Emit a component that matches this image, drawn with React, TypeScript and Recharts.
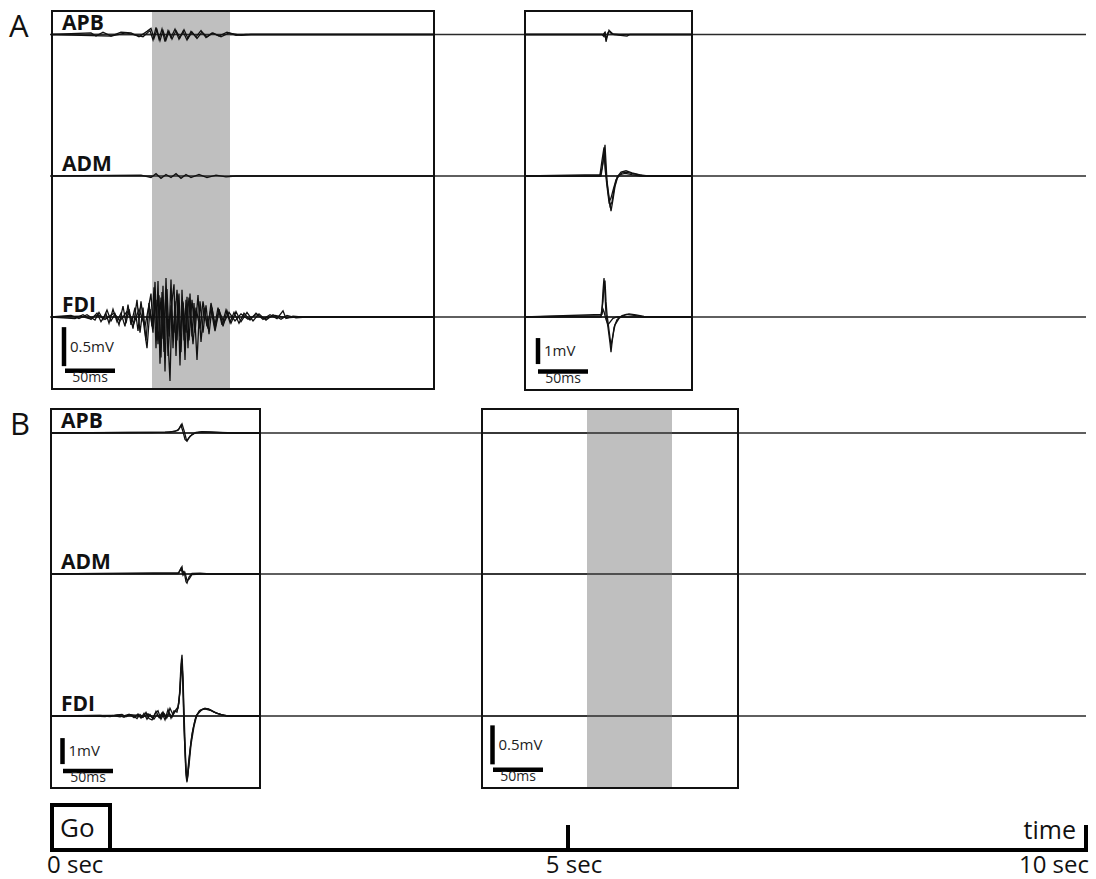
import React from 'react';
import { ComposedChart, Line, XAxis, YAxis, ReferenceLine, ReferenceArea } from 'recharts';

const FONT = '"Open Sans", "DejaVu Sans", sans-serif';

// recorded muscles, top to bottom in each panel
const MUSCLES = ['APB', 'ADM', 'FDI'] as const;
type Muscle = (typeof MUSCLES)[number];

// trial time line (sec)
const TIME_TICKS = [0, 5, 10];

// each trace is a list of [ms, mV] samples
type Pt = [number, number];

// ---- A, first window: voluntary burst ----
const A1_APB: Pt[][] = [
  [[0, 0], [40, 0.02], [45, -0.02], [52, 0.03], [60, -0.02], [70, 0.03], [80, 0.02], [88, -0.03], [96, 0.04], [100, 0.08], [103, -0.05], [106, 0.06], [109, -0.08], [112, 0.05], [115, -0.07], [118, 0.04], [121, -0.06], [125, 0.05], [129, -0.04], [133, 0.06], [137, -0.05], [141, 0.03], [146, -0.05], [151, 0.03], [156, -0.03], [162, 0.02], [170, -0.03], [178, 0.02], [190, -0.01], [200, 0], [384, 0]],
  [[0, 0], [60, -0.02], [75, 0.02], [92, -0.03], [99, 0.05], [102, -0.07], [105, 0.09], [108, -0.06], [111, 0.07], [114, -0.09], [117, 0.05], [120, -0.04], [124, 0.07], [128, -0.06], [132, 0.04], [136, -0.07], [140, 0.04], [145, -0.03], [150, 0.05], [155, -0.04], [161, 0.02], [168, -0.02], [176, 0.03], [185, -0.01], [195, 0], [384, 0]],
];
const A1_ADM: Pt[][] = [
  [[0, 0], [90, 0.01], [100, -0.02], [105, 0.03], [110, -0.03], [115, 0.02], [120, -0.02], [125, 0.03], [130, -0.03], [135, 0.02], [140, -0.02], [148, 0.02], [156, -0.02], [165, 0.01], [175, -0.01], [185, 0], [384, 0]],
];
const A1_FDI: Pt[][] = [
  [[0, 0], [20, 0.02], [28, -0.02], [36, 0.03], [44, -0.04], [48, 0.06], [52, -0.03], [56, 0.09], [60, -0.05], [64, 0.04], [68, -0.1], [72, 0.14], [75, -0.08], [78, 0.1], [82, -0.15], [86, 0.22], [89, -0.2], [92, 0.12], [95, -0.3], [98, 0.18], [101, -0.12], [103, 0.38], [105, -0.4], [107, 0.46], [109, -0.6], [111, 0.32], [113, -0.45], [115, 0.5], [117, -0.3], [119, -0.82], [121, 0.2], [123, 0.42], [125, -0.5], [127, 0.28], [129, -0.62], [131, 0.35], [133, -0.3], [135, 0.22], [137, -0.4], [139, 0.3], [141, -0.25], [143, 0.18], [146, -0.55], [149, 0.2], [152, -0.2], [155, 0.15], [158, -0.22], [161, 0.12], [164, -0.15], [168, 0.1], [172, -0.12], [176, 0.08], [180, -0.08], [185, 0.07], [190, -0.06], [196, 0.06], [202, -0.05], [208, 0.04], [215, -0.04], [222, 0.03], [230, -0.03], [236, 0.02], [245, -0.01], [255, 0], [384, 0]],
  [[0, 0], [24, -0.02], [32, 0.03], [40, -0.03], [46, 0.05], [50, -0.06], [55, 0.04], [58, -0.08], [62, 0.1], [66, -0.06], [70, 0.05], [74, -0.12], [77, 0.16], [80, -0.1], [84, 0.12], [87, -0.18], [90, 0.2], [93, -0.12], [96, -0.4], [99, 0.1], [102, -0.2], [104, 0.45], [106, -0.3], [108, 0.28], [110, -0.52], [112, 0.4], [114, -0.7], [116, 0.36], [118, -0.25], [120, 0.48], [122, -0.4], [124, 0.2], [126, -0.3], [128, 0.3], [130, -0.45], [132, 0.2], [134, -0.55], [136, 0.26], [138, -0.3], [141, 0.22], [144, -0.2], [147, 0.28], [150, -0.32], [153, 0.12], [157, -0.15], [160, 0.18], [164, -0.1], [167, 0.12], [171, -0.1], [175, 0.09], [179, -0.07], [183, 0.06], [188, -0.08], [193, 0.05], [199, -0.04], [205, 0.05], [212, -0.03], [219, 0.03], [226, -0.02], [232, 0.08], [235, -0.02], [242, 0.01], [250, 0], [384, 0]],
  [[0, 0], [30, 0.01], [38, -0.02], [47, 0.03], [54, -0.03], [63, 0.05], [69, -0.05], [76, 0.07], [83, -0.08], [88, 0.1], [94, -0.12], [100, 0.3], [102, -0.15], [105, 0.22], [107, -0.35], [110, 0.25], [112, -0.28], [115, 0.3], [117, -0.5], [120, 0.15], [123, -0.2], [126, 0.35], [129, -0.25], [132, 0.18], [135, -0.2], [138, 0.25], [142, -0.35], [145, 0.12], [149, -0.15], [152, 0.2], [156, -0.12], [160, 0.1], [164, -0.18], [168, 0.08], [173, -0.07], [178, 0.06], [184, -0.05], [190, 0.04], [197, -0.03], [205, 0.03], [214, -0.02], [224, 0.02], [236, -0.01], [245, 0], [384, 0]],
];

// ---- A, second window: MEPs ----
const A2_APB: Pt[][] = [
  [[0, 0], [78, 0], [80, -0.08], [81, 0.1], [82, -0.28], [83, -0.12], [85, 0.16], [87, 0.05], [90, 0], [103, -0.06], [106, 0], [169, 0]],
  [[0, 0], [79, 0], [81, 0.08], [82, -0.2], [84, 0.08], [86, 0.12], [89, 0.02], [95, 0], [169, 0]],
];
const A2_ADM: Pt[][] = [
  [[0, 0], [76, 0], [78, 0.3], [80, 0.8], [81, 1.2], [82, 0.5], [83, -0.2], [85, -0.8], [87, -1.35], [89, -0.9], [91, -0.4], [94, 0], [98, 0.12], [103, 0.14], [110, 0.08], [118, 0.02], [125, 0], [169, 0]],
  [[0, 0], [77, 0], [79, 0.5], [80, 1.0], [81, 0.7], [82, 0.1], [84, -0.6], [86, -1.15], [88, -1.0], [90, -0.5], [93, -0.05], [97, 0.15], [102, 0.2], [108, 0.12], [116, 0.04], [124, 0], [169, 0]],
  [[0, 0], [76, 0.05], [78, 0.6], [80, 1.1], [81, 0.3], [83, -0.4], [85, -1.0], [87, -0.85], [89, -0.55], [92, -0.15], [96, 0.05], [101, 0.1], [108, 0.05], [116, 0], [169, 0]],
];
const A2_FDI: Pt[][] = [
  [[0, 0], [77, 0], [78, 0.3], [79, 1.0], [80, 1.5], [81, 0.9], [82, 0.1], [84, -0.4], [86, -1.0], [87, -1.35], [88, -1.0], [90, -0.4], [93, -0.1], [98, 0.05], [105, 0.12], [112, 0.08], [120, 0.02], [128, 0], [169, 0]],
  [[0, 0], [77, 0.05], [79, 0.6], [80, 1.2], [81, 1.4], [82, 0.6], [83, 0.1], [85, -0.5], [87, -1.1], [89, -0.7], [91, -0.3], [95, -0.05], [102, 0.1], [110, 0.06], [120, 0], [169, 0]],
  [[0, 0], [78, 0.1], [79, 0.3], [80, 0.2], [82, -0.1], [84, -0.3], [86, -0.2], [89, -0.05], [93, 0], [169, 0]],
];

// ---- B, first window: MEPs during contraction ----
const B1_APB: Pt[][] = [
  [[0, 0], [100, 0.02], [115, 0.03], [125, 0.06], [129, 0.15], [132, 0.35], [134, 0.1], [136, -0.2], [137, -0.28], [139, -0.18], [142, -0.06], [146, 0.02], [152, 0.05], [160, 0.04], [170, 0.02], [185, 0], [211, 0]],
  [[0, 0], [120, 0.03], [128, 0.1], [131, 0.3], [133, 0.05], [135, -0.25], [137, -0.32], [140, -0.12], [145, 0], [152, 0.04], [165, 0.02], [180, 0], [211, 0]],
];
const B1_ADM: Pt[][] = [
  [[0, 0], [128, 0.02], [130, 0.15], [132, 0.28], [133, 0.0], [134, 0.12], [136, -0.3], [137, -0.35], [139, -0.12], [142, 0.02], [150, 0.03], [160, 0], [211, 0]],
  [[0, 0], [129, 0.05], [131, 0.22], [133, -0.05], [135, 0.05], [137, -0.25], [139, -0.2], [142, -0.02], [150, 0], [211, 0]],
];
const B1_FDI: Pt[][] = [
  [[0, 0], [40, 0.01], [55, -0.02], [65, 0.03], [72, 0.06], [76, -0.03], [80, 0.05], [84, -0.06], [88, 0.08], [91, -0.08], [94, 0.1], [97, -0.12], [100, 0.06], [103, -0.1], [106, 0.18], [109, -0.05], [112, 0.12], [115, -0.15], [118, 0.25], [121, -0.08], [124, 0.2], [127, 0.15], [129, 0.5], [130, 1.2], [131, 2.0], [132, 2.35], [133, 1.5], [134, 0.2], [135, -1.0], [136, -2.0], [137, -2.5], [138, -2.3], [139, -1.7], [141, -1.0], [143, -0.5], [146, 0], [150, 0.22], [155, 0.3], [160, 0.25], [166, 0.12], [172, 0.04], [178, 0], [211, 0]],
  [[0, 0], [50, 0.02], [60, -0.02], [68, 0.04], [74, -0.05], [79, 0.07], [83, 0.02], [87, -0.1], [90, 0.06], [93, -0.05], [96, 0.14], [99, -0.1], [102, -0.15], [105, 0.08], [108, 0.2], [111, -0.12], [114, 0.1], [117, -0.05], [120, 0.3], [123, 0.05], [126, 0.25], [128, 0.35], [130, 0.9], [131, 1.6], [132, 2.1], [133, 1.2], [134, -0.2], [135, -1.4], [136, -2.3], [137, -2.55], [138, -2.0], [140, -1.3], [142, -0.7], [145, -0.15], [149, 0.18], [154, 0.28], [160, 0.22], [167, 0.1], [174, 0.02], [180, 0], [211, 0]],
  [[0, 0], [62, 0.02], [70, -0.03], [78, 0.05], [86, 0.03], [92, -0.06], [98, 0.08], [104, -0.12], [107, 0.05], [110, -0.08], [113, 0.15], [116, -0.1], [119, 0.12], [122, -0.05], [125, 0.18], [128, 0.3], [130, 1.0], [131, 1.8], [132, 2.2], [133, 1.0], [134, -0.5], [136, -2.1], [137, -2.4], [139, -1.9], [141, -1.1], [144, -0.4], [147, 0.05], [152, 0.25], [158, 0.28], [164, 0.15], [171, 0.05], [178, 0], [211, 0]],
];

// ---- B, second window: rest, no response ----
const B2_APB: Pt[][] = [];
const B2_ADM: Pt[][] = [];
const B2_FDI: Pt[][] = [];

// page layout
const W = 1096;
const H = 879;
const AXIS_Y = 850;
const PLOT_LEFT = 50;
const PLOT_RIGHT = 1086;
const ROWS_A = [34.5, 176, 317];
const ROWS_B = [433, 574, 716];

interface ScaleBar {
  x: number;
  top: number;
  mv: number;
  mvLabel: string;
  hx: number;
  hy: number;
  ms: number;
}

interface Inset {
  id: string;
  left: number;
  top: number;
  width: number;
  height: number;
  gain: number; // px per mV
  rows: number[];
  traces: Record<Muscle, Pt[][]>;
  shade?: [number, number];
  bar: ScaleBar;
  labels: boolean;
}

const INSETS: Inset[] = [
  {
    id: 'a1', left: 51, top: 10, width: 384, height: 380, gain: 78, rows: ROWS_A,
    traces: { APB: A1_APB, ADM: A1_ADM, FDI: A1_FDI }, shade: [101, 179],
    bar: { x: 13, top: -0.13, mv: 0.5, mvLabel: '0.5mV', hx: 14, hy: -0.69, ms: 50 }, labels: true,
  },
  {
    id: 'a2', left: 524, top: 10, width: 169, height: 381, gain: 26, rows: ROWS_A,
    traces: { APB: A2_APB, ADM: A2_ADM, FDI: A2_FDI },
    bar: { x: 14, top: -0.81, mv: 1, mvLabel: '1mV', hx: 14, hy: -2.1, ms: 50 }, labels: false,
  },
  {
    id: 'b1', left: 50, top: 408, width: 211, height: 381, gain: 26, rows: ROWS_B,
    traces: { APB: B1_APB, ADM: B1_ADM, FDI: B1_FDI },
    bar: { x: 12.5, top: -0.85, mv: 1, mvLabel: '1mV', hx: 13, hy: -2.12, ms: 50 }, labels: true,
  },
  {
    id: 'b2', left: 481, top: 408, width: 258, height: 381, gain: 78, rows: ROWS_B,
    traces: { APB: B2_APB, ADM: B2_ADM, FDI: B2_FDI }, shade: [106, 191],
    bar: { x: 11.5, top: -0.12, mv: 0.5, mvLabel: '0.5mV', hx: 12, hy: -0.69, ms: 50 }, labels: false,
  },
];

const BASE_STROKE = '#2a2a2a';

const InsetChart = ({ box }: { box: Inset }) => {
  const { bar } = box;
  return (
    <div style={{ position: 'absolute', left: box.left, top: box.top }}>
      <ComposedChart width={box.width} height={box.height} margin={{ top: 0, right: 0, bottom: 0, left: 0 }}>
        <XAxis type="number" dataKey="t" domain={[0, box.width]} hide allowDataOverflow />
        {MUSCLES.map((m, i) => {
          const py = box.rows[i] - box.top;
          return (
            <YAxis
              key={m}
              yAxisId={m}
              type="number"
              hide
              allowDataOverflow
              domain={[-(box.height - py) / box.gain, py / box.gain]}
            />
          );
        })}
        {box.shade && (
          <ReferenceArea yAxisId="APB" x1={box.shade[0]} x2={box.shade[1]} fill="#bfbfbf" fillOpacity={1} stroke="none" />
        )}
        {MUSCLES.map((m) => (
          <ReferenceLine key={`base-${m}`} yAxisId={m} y={0} stroke={BASE_STROKE} strokeWidth={1.6} />
        ))}
        {MUSCLES.flatMap((m) =>
          box.traces[m].map((trial, k) => (
            <Line
              key={`${m}-${k}`}
              yAxisId={m}
              data={trial.map(([t, v]) => ({ t, v }))}
              dataKey="v"
              type="linear"
              stroke="#111"
              strokeWidth={1.3}
              dot={false}
              isAnimationActive={false}
            />
          ))
        )}
        <ReferenceLine
          yAxisId="FDI"
          segment={[{ x: bar.x, y: bar.top }, { x: bar.x, y: bar.top - bar.mv }]}
          stroke="#000"
          strokeWidth={4.5}
          label={{ value: bar.mvLabel, position: 'right', offset: 6, fontSize: 15, fill: '#222', fontFamily: FONT }}
        />
        <ReferenceLine
          yAxisId="FDI"
          segment={[{ x: bar.hx, y: bar.hy }, { x: bar.hx + bar.ms, y: bar.hy }]}
          stroke="#000"
          strokeWidth={4.5}
          label={{ value: `${bar.ms}ms`, position: 'bottom', offset: 1, fontSize: 14, fill: '#222', fontFamily: FONT }}
        />
      </ComposedChart>
    </div>
  );
};

const TimeTick = (props: any) => {
  const { x, y, payload } = props;
  const v = payload.value as number;
  const anchor = v === 0 ? 'start' : v === 10 ? 'end' : 'middle';
  const dx = v === 0 ? -3 : v === 10 ? 3 : 6;
  return (
    <g>
      {v !== 0 && <line x1={x} x2={x} y1={y - 25} y2={y + 2} stroke="#000" strokeWidth={4} />}
      <text x={x + dx} y={y + 23} textAnchor={anchor} fontSize={24} fontFamily={FONT} fill="#111">
        {`${v} sec`}
      </text>
    </g>
  );
};

const ALL_ROWS = [...ROWS_A, ...ROWS_B];

export default function App() {
  return (
    <div style={{ position: 'absolute', left: 0, top: 0, width: W, height: H, background: '#fff', fontFamily: FONT }}>
      {/* full-length traces and the trial time line */}
      <div style={{ position: 'absolute', left: 0, top: 0 }}>
        <ComposedChart
          width={W}
          height={H}
          data={TIME_TICKS.map((sec) => ({ sec }))}
          margin={{ top: 0, right: W - PLOT_RIGHT, bottom: 0, left: PLOT_LEFT }}
        >
          <XAxis
            dataKey="sec"
            type="number"
            domain={[0, 10]}
            ticks={TIME_TICKS}
            interval={0}
            height={H - AXIS_Y}
            tickSize={0}
            tickMargin={0}
            tickLine={false}
            axisLine={{ stroke: '#000', strokeWidth: 4 }}
            tick={TimeTick}
          />
          {ALL_ROWS.map((py, i) => (
            <YAxis key={i} yAxisId={`r${i}`} type="number" hide allowDataOverflow domain={[-(AXIS_Y - py), py]} />
          ))}
          {ALL_ROWS.map((_, i) => (
            <ReferenceLine key={`row-${i}`} yAxisId={`r${i}`} y={0} stroke={BASE_STROKE} strokeWidth={1.6} />
          ))}
        </ComposedChart>
      </div>

      {INSETS.map((box) => (
        <InsetChart key={box.id} box={box} />
      ))}

      {/* frames, panel letters, channel names, Go cue */}
      <svg width={W} height={H} style={{ position: 'absolute', left: 0, top: 0, pointerEvents: 'none' }}>
        {INSETS.map((box) => (
          <rect
            key={`frame-${box.id}`}
            x={box.left + 1}
            y={box.top + 1}
            width={box.width - 2}
            height={box.height - 2}
            fill="none"
            stroke="#111"
            strokeWidth={2}
          />
        ))}
        {INSETS.filter((b) => b.labels).map((box) =>
          MUSCLES.map((m, i) => (
            <text
              key={`${box.id}-${m}`}
              x={box.left + 11}
              y={box.rows[i] - 5}
              fontSize={21}
              fontWeight="bold"
              fontFamily={FONT}
              fill="#111"
            >
              {m}
            </text>
          ))
        )}
        <text x={9} y={37} fontSize={31} fontFamily={FONT} fill="#111">A</text>
        <text x={10} y={435} fontSize={31} fontFamily={FONT} fill="#111">B</text>
        <rect x={52} y={805} width={58} height={45} fill="none" stroke="#000" strokeWidth={4} />
        <text x={60} y={837} fontSize={26} fontFamily={FONT} fill="#111">Go</text>
        <text x={1076} y={839} textAnchor="end" fontSize={25} fontFamily={FONT} fill="#111">time</text>
      </svg>
    </div>
  );
}
